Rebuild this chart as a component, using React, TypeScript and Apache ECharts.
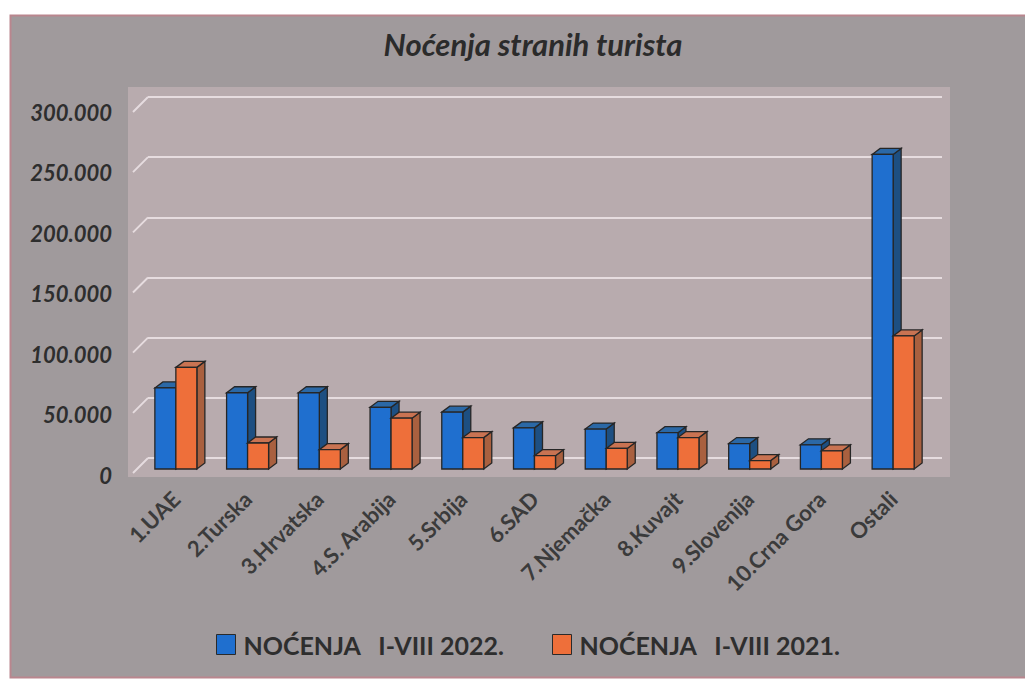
import React, { useEffect, useRef } from 'react';
import * as echarts from 'echarts';

const categories = ['1.UAE', '2.Turska', '3.Hrvatska', '4.S. Arabija', '5.Srbija', '6.SAD', '7.Njemačka', '8.Kuvajt', '9.Slovenija', '10.Crna Gora', 'Ostali'];
const nocenja2022 = [67000, 63000, 63000, 51000, 47000, 34000, 33000, 30000, 21000, 20000, 260000];
const nocenja2021 = [84000, 21500, 16000, 42000, 26000, 11000, 17000, 26000, 7000, 15000, 110000];
const yTicks = [0, 50000, 100000, 150000, 200000, 250000, 300000];
const seriesNames = ['NOĆENJA   I-VIII 2022.', 'NOĆENJA   I-VIII 2021.'];
const titleText = 'Noćenja stranih turista';

const BAR_W = 21;
const DX = 8;
const DY = -6;
const FONT = 'Lato, "Open Sans", sans-serif';

function makeRender(side: number, front: string, sideC: string, topC: string) {
  return (params: any, api: any) => {
    const i = api.value(0);
    const v = api.value(1);
    const base = api.coord([i, 0]);
    const top = api.coord([i, v]);
    const x0 = side === 0 ? base[0] - BAR_W : base[0];
    const x1 = x0 + BAR_W;
    const yT = top[1];
    const yB = base[1];
    const stroke = '#262626';
    return {
      type: 'group',
      children: [
        { type: 'polygon', shape: { points: [[x1, yT], [x1 + DX, yT + DY], [x1 + DX, yB + DY], [x1, yB]] }, style: { fill: sideC, stroke, lineWidth: 1.3 } },
        { type: 'polygon', shape: { points: [[x0, yT], [x0 + DX, yT + DY], [x1 + DX, yT + DY], [x1, yT]] }, style: { fill: topC, stroke, lineWidth: 1.3 } },
        { type: 'rect', shape: { x: x0, y: yT, width: BAR_W, height: yB - yT }, style: { fill: front, stroke, lineWidth: 1.3 } },
      ],
    };
  };
}

export default function App() {
  const ref = useRef<HTMLDivElement>(null);
  useEffect(() => {
    if (!ref.current) return;
    const chart = echarts.init(ref.current, undefined, { renderer: 'svg' });
    const legendText = { fontFamily: FONT, fontWeight: 'bold', fontSize: 25, color: '#2e2e2e', padding: [0, 0, 0, 3] };
    chart.setOption({
      animation: false,
      backgroundColor: '#ffffff',
      title: {
        text: titleText,
        left: 528,
        textAlign: 'center',
        top: 23,
        textStyle: { fontFamily: FONT, fontWeight: 'bold', fontStyle: 'italic', fontSize: 31, color: '#2b2b2b' },
      },
      graphic: [
        { type: 'rect', z: -10, shape: { x: 10.5, y: 15.5, width: 1020, height: 662 }, style: { fill: '#a09a9c', stroke: '#b9868e', lineWidth: 2 } },
        { type: 'rect', z: -9, shape: { x: 128, y: 87, width: 822, height: 390 }, style: { fill: '#b8abae' } },
      ],
      grid: [
        { left: 140, width: 789, top: 106, height: 363 },
        { left: 122, width: 10, top: 112, height: 363 },
        { left: 148, width: 794, top: 97, height: 361 },
      ],
      xAxis: [
        {
          type: 'category', gridIndex: 0, data: categories,
          axisLine: { show: false }, axisTick: { show: false },
          axisLabel: { rotate: 45, margin: 26, interval: 0, fontFamily: FONT, fontWeight: 'bold', fontSize: 22, color: '#3b3b3b' },
        },
        { type: 'value', gridIndex: 1, show: false },
        { type: 'value', gridIndex: 2, min: 0, max: 1, show: false },
      ],
      yAxis: [
        { type: 'value', gridIndex: 0, min: 0, max: 300000, interval: 50000, show: false, splitLine: { show: false } },
        {
          type: 'value', gridIndex: 1, min: 0, max: 300000, interval: 50000,
          axisLine: { show: false }, axisTick: { show: false }, splitLine: { show: false },
          axisLabel: {
            margin: 10, fontFamily: FONT, fontWeight: 'bold', fontStyle: 'italic', fontSize: 22, color: '#2e2e2e',
            formatter: (v: number) => (v === 0 ? '0' : `${v / 1000}.000`),
          },
        },
        {
          type: 'value', gridIndex: 2, min: 0, max: 300000, interval: 50000,
          axisLine: { show: false }, axisTick: { show: false }, axisLabel: { show: false },
          splitLine: { show: true, lineStyle: { color: '#e6dcdf', width: 2 } },
        },
      ],
      legend: [
        {
          data: [{ name: seriesNames[0], itemStyle: { color: '#1f6fcf', borderColor: '#2a2a2a', borderWidth: 1 } }],
          left: 211, top: 627, icon: 'rect', itemWidth: 19, itemHeight: 20, textStyle: legendText, selectedMode: false,
        },
        {
          data: [{ name: seriesNames[1], itemStyle: { color: '#ee6f3a', borderColor: '#2a2a2a', borderWidth: 1 } }],
          left: 547, top: 627, icon: 'rect', itemWidth: 19, itemHeight: 20, textStyle: legendText, selectedMode: false,
        },
      ],
      series: [
        {
          type: 'custom', xAxisIndex: 2, yAxisIndex: 2, silent: true, z: 1,
          data: yTicks.map((v) => [0, v]),
          renderItem: (params: any, api: any) => {
            const p = api.coord([0, api.value(1)]);
            return { type: 'line', shape: { x1: p[0], y1: p[1], x2: p[0] - 15, y2: p[1] + 15 }, style: { stroke: '#e6dcdf', lineWidth: 2 } };
          },
        },
        {
          type: 'custom', name: seriesNames[0], xAxisIndex: 0, yAxisIndex: 0, z: 3,
          itemStyle: { color: '#1f6fcf' },
          data: nocenja2022.map((v, i) => [i, v]),
          encode: { x: 0, y: 1 },
          renderItem: makeRender(0, '#1f6fcf', '#1d4f82', '#2b68a6'),
        },
        {
          type: 'custom', name: seriesNames[1], xAxisIndex: 0, yAxisIndex: 0, z: 4,
          itemStyle: { color: '#ee6f3a' },
          data: nocenja2021.map((v, i) => [i, v]),
          encode: { x: 0, y: 1 },
          renderItem: makeRender(1, '#ee6f3a', '#a9603f', '#c97352'),
        },
      ],
    });
    return () => chart.dispose();
  }, []);
  return <div ref={ref} style={{ position: 'fixed', left: 0, top: 0, width: 1025, height: 684 }} />;
}
